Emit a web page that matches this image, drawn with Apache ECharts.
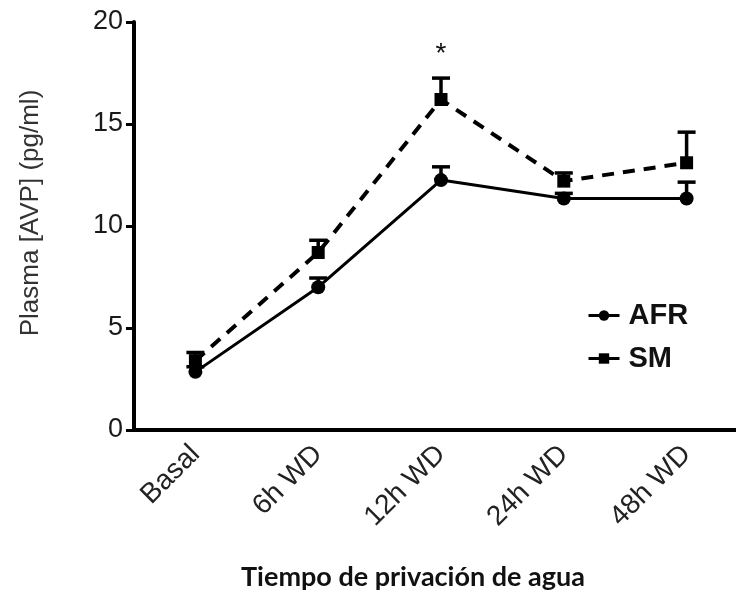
<!DOCTYPE html>
<html>
<head>
<meta charset="utf-8">
<script src="https://cdn.jsdelivr.net/npm/echarts@6/dist/echarts.min.js"></script>
<style>html,body{margin:0;padding:0;background:#fff}#c{width:736px;height:599px}</style>
</head>
<body>
<div id="c"></div>
<script>
const categories = ['Basal', '6h WD', '12h WD', '24h WD', '48h WD'];
const afrMean = [2.85, 7.0, 12.25, 11.35, 11.35];
const afrUpper = [3.1, 7.45, 12.9, 11.6, 12.15];
const smMean = [3.4, 8.7, 16.2, 12.2, 13.1];
const smUpper = [3.8, 9.3, 17.25, 12.6, 14.6];
const sigMarks = ['', '', '*', '', ''];
const yTicks = [0, 5, 10, 15, 20];

const FONT = '"Liberation Sans", Arial, sans-serif';
const chart = echarts.init(document.getElementById('c'));

function errData(mean, upper) {
  return categories.map((c, i) => [i, mean[i], upper[i]]);
}
function errRender(withSig) {
  return function (params, api) {
    const x = api.value(0);
    const p0 = api.coord([x, api.value(1)]);
    const p1 = api.coord([x, api.value(2)]);
    const half = 9;
    const children = [
      {type: 'line', shape: {x1: p0[0], y1: p0[1], x2: p1[0], y2: p1[1]}, style: {stroke: '#000', lineWidth: 3.5}},
      {type: 'line', shape: {x1: p1[0] - half, y1: p1[1], x2: p1[0] + half, y2: p1[1]}, style: {stroke: '#000', lineWidth: 3.5}}
    ];
    const s = withSig ? sigMarks[params.dataIndex] : '';
    if (s) {
      children.push({type: 'text', x: p1[0], y: p1[1] - 24, style: {text: s, fill: '#111', font: '28px ' + FONT, align: 'center', verticalAlign: 'middle'}});
    }
    return {type: 'group', children: children};
  };
}

chart.setOption({
  animation: false,
  backgroundColor: '#fff',
  grid: {left: 134, width: 614, top: 22, bottom: 169, containLabel: false, outerBoundsMode: 'none'},
  legend: {
    orient: 'vertical',
    left: 582,
    top: 296,
    itemWidth: 31,
    itemHeight: 13,
    itemGap: 14,
    textStyle: {fontFamily: FONT, fontSize: 29, fontWeight: 'bold', color: '#111', padding: [0, 0, 0, 4]},
    data: [
      {name: 'AFR', lineStyle: {type: 'solid', width: 3}},
      {name: 'SM', lineStyle: {type: 'solid', width: 3}}
    ]
  },
  xAxis: {
    type: 'category',
    data: categories,
    boundaryGap: true,
    axisLine: {lineStyle: {color: '#000', width: 4}},
    axisTick: {alignWithLabel: true, length: 9, lineStyle: {color: '#000', width: 4}},
    axisLabel: {rotate: 45, margin: 20, fontFamily: FONT, fontSize: 28, color: '#222'},
    name: 'Tiempo de privación de agua',
    nameLocation: 'middle',
    nameGap: 134,
    nameTextStyle: {fontFamily: 'Lato, "Open Sans", sans-serif', fontWeight: 'bold', fontSize: 27, color: '#111', padding: [0, 56, 0, 0]}
  },
  yAxis: {
    type: 'value',
    min: yTicks[0],
    max: yTicks[yTicks.length - 1],
    interval: yTicks[1] - yTicks[0],
    splitLine: {show: false},
    axisLine: {show: true, lineStyle: {color: '#000', width: 4}},
    axisTick: {show: true, length: 8, lineStyle: {color: '#000', width: 3}},
    axisLabel: {margin: 11, fontFamily: FONT, fontSize: 27, color: '#1a1a1a'},
    name: 'Plasma [AVP] (pg/ml)',
    nameLocation: 'middle',
    nameGap: 90,
    nameTextStyle: {fontFamily: FONT, fontSize: 26, color: '#333', padding: [0, 0, 0, 26]}
  },
  series: [
    {
      name: 'AFR-err', type: 'custom', renderItem: errRender(false),
      data: errData(afrMean, afrUpper), encode: {x: 0, y: [1, 2]}, z: 2, silent: true
    },
    {
      name: 'SM-err', type: 'custom', renderItem: errRender(true),
      data: errData(smMean, smUpper), encode: {x: 0, y: [1, 2]}, z: 2, silent: true
    },
    {
      name: 'AFR', type: 'line', data: afrMean,
      symbol: 'circle', symbolSize: 14,
      lineStyle: {color: '#000', width: 3, type: 'solid'},
      itemStyle: {color: '#000'}, z: 3
    },
    {
      name: 'SM', type: 'line', data: smMean,
      symbol: 'rect', symbolSize: 13,
      lineStyle: {color: '#000', width: 4, type: [12, 9]},
      itemStyle: {color: '#000'}, z: 3
    }
  ]
});
</script>
</body>
</html>
